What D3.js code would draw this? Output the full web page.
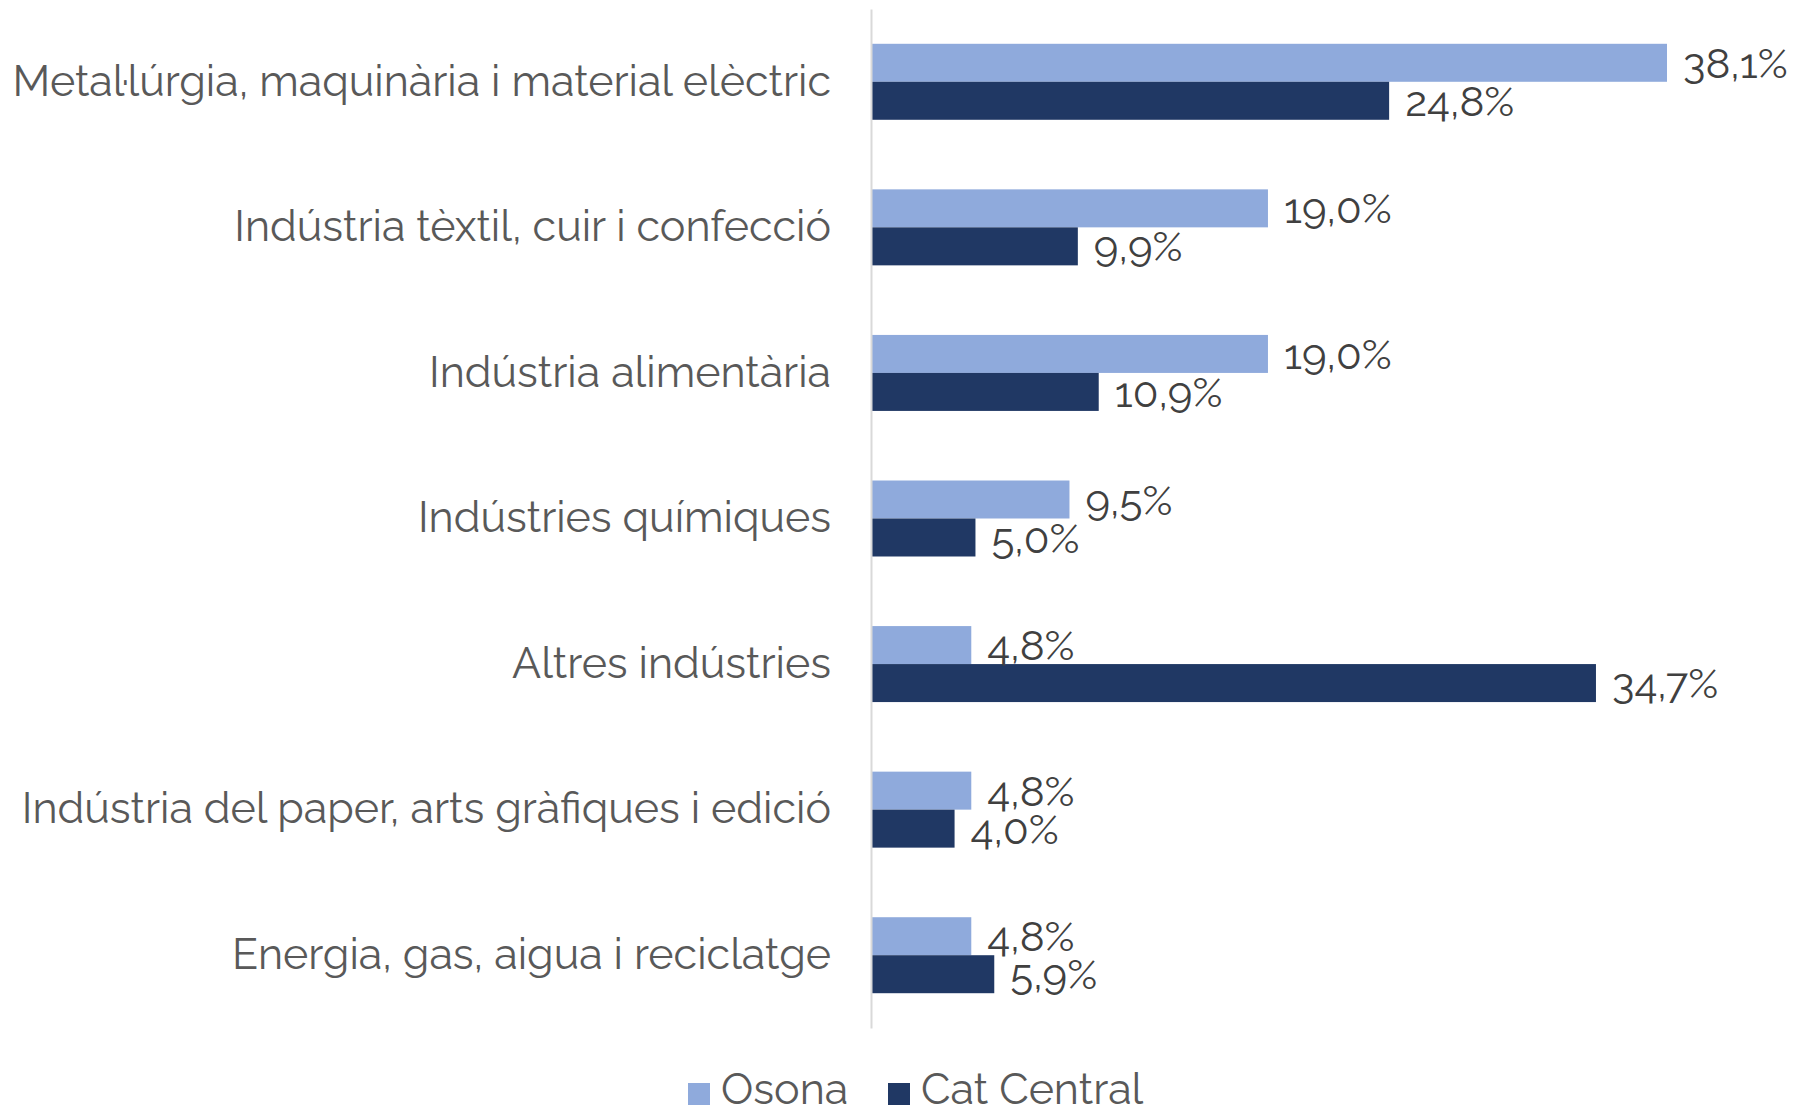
<!DOCTYPE html>
<html><head><meta charset="utf-8">
<script src="https://cdn.jsdelivr.net/npm/d3@7"></script>
<style>body{margin:0;background:#fff}</style>
</head><body>
<svg id="c" width="1793" height="1108"></svg>
<script>
const categories = [
  "Metal·lúrgia, maquinària i material elèctric",
  "Indústria tèxtil, cuir i confecció",
  "Indústria alimentària",
  "Indústries químiques",
  "Altres indústries",
  "Indústria del paper, arts gràfiques i edició",
  "Energia, gas, aigua i reciclatge"
];
const seriesNames = ["Osona", "Cat Central"];
const osona = [38.1, 19.0, 19.0, 9.5, 4.8, 4.8, 4.8];
const catCentral = [24.8, 9.9, 10.9, 5.0, 34.7, 4.0, 5.9];
const colors = ["#8FAADC", "#203864"];

const svg = d3.select("#c");
const x0 = 871;
const x = d3.scaleLinear().domain([0, 38.1]).range([x0, 1667]);
const y = d3.scaleBand().domain(categories).range([9, 1028]).paddingInner(0.478).paddingOuter(0.239);
const ySub = d3.scaleBand().domain(seriesNames).range([0, y.bandwidth()]);
const fmt = v => d3.format(".1f")(v).replace(".", ",") + "%";
const font = "Raleway, Lato, 'Open Sans', sans-serif";

const data = categories.map((c, i) => ({c, vals: [osona[i], catCentral[i]]}));

const g = svg.selectAll("g.grp").data(data).join("g").attr("class","grp")
  .attr("transform", d => `translate(0,${y(d.c)})`);

g.selectAll("rect").data(d => d.vals.map((v,j)=>({v, s: seriesNames[j], j}))).join("rect")
  .attr("x", x0).attr("y", d => ySub(d.s)).attr("width", d => x(d.v) - x0)
  .attr("height", ySub.bandwidth()).attr("fill", d => colors[d.j]);

g.selectAll("text.val").data(d => d.vals.map((v,j)=>({v, s: seriesNames[j]}))).join("text")
  .attr("class","val")
  .attr("x", d => x(d.v) + 16).attr("y", d => ySub(d.s) + ySub.bandwidth()/2)
  .attr("dy", "0.36em").attr("fill", "#404040")
  .style("font-family", font).style("font-size", "42px").style("font-weight", 400)
  .text(d => fmt(d.v));

// axis
const yAxis = d3.axisLeft(y).tickSize(0).tickPadding(40);
const ag = svg.append("g").attr("transform", `translate(${x0},0)`).call(yAxis);
ag.select(".domain").attr("stroke", "#D9D9D9").attr("stroke-width", 2);
ag.selectAll("text").attr("fill", "#595959")
  .style("font-family", font).style("font-size", "43px").style("font-weight", 400);

// legend
const lg = svg.append("g");
const legX = [688, 888];
seriesNames.forEach((s, i) => {
  lg.append("rect").attr("x", legX[i]).attr("y", 1083).attr("width", 22).attr("height", 22).attr("fill", colors[i]);
  lg.append("text").attr("x", legX[i] + 33).attr("y", 1104)
    .attr("fill", "#595959").style("font-family", font).style("font-size", "43px").style("font-weight", 400)
    .text(s);
});
</script>
</body></html>
